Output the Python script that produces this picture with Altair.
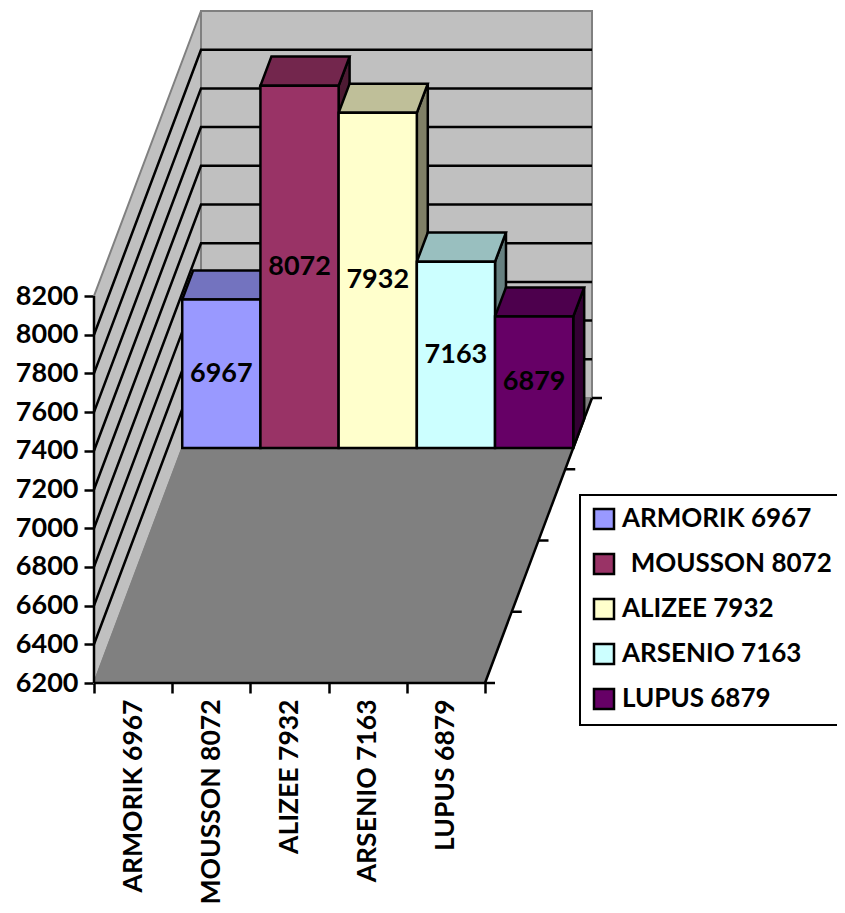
import altair as alt
import pandas as pd

categories = ["ARMORIK 6967", "MOUSSON 8072", "ALIZEE 7932", "ARSENIO 7163", "LUPUS 6879"]
values = [6967, 8072, 7932, 7163, 6879]
colors = ["#9999FF", "#993366", "#FFFFCC", "#CCFFFF", "#660066"]
tops = ["#7373BF", "#73264D", "#BFBF99", "#99BFBF", "#4D004D"]
sides = ["#4D4D80", "#4D1A33", "#808066", "#668080", "#330033"]
y_ticks = [6200, 6400, 6600, 6800, 7000, 7200, 7400, 7600, 7800, 8000, 8200]
grid_values = y_ticks[1:-1]

FONT = "Lato"
FS = 27
FS_AXIS = 26.5
FS_LEGEND = 26
BASE = 6200
TOP = 8200
PW, PH = 498, 671
UX = 391 / 5            # px per category
UY = 387 / 2000         # px per value unit
DX = 107 / UX           # depth shift, category units
DY = 285 / UY           # depth shift, value units
D0, D1 = 0.8246, 0.927  # depth span of the bars
BAR_DX, BAR_DY = DX * D0, DY * D0
DEP_X, DEP_Y = DX * (D1 - D0), DY * (D1 - D0)

x_scale = alt.Scale(domain=[0, PW / UX], nice=False, zero=False)
y_scale = alt.Scale(domain=[BASE, BASE + PH / UY], nice=False, zero=False)

axis_x = alt.Axis(
    values=[0, 1, 2, 3, 4, 5], grid=False, domain=False, tickColor="black", tickWidth=2.5, tickSize=10,
    labelExpr="['ARMORIK 6967','MOUSSON 8072','ALIZEE 7932','ARSENIO 7163','LUPUS 6879',''][datum.value]",
    labelAngle=-90, labelAlign="right", labelBaseline="middle", labelOffset=UX / 2, labelPadding=6,
    labelFont=FONT, labelFontSize=FS_AXIS, labelFontWeight="bold", labelColor="black", labelLimit=400,
)
axis_y = alt.Axis(
    values=y_ticks, format="d", grid=False, domain=False, tickColor="black", tickWidth=2.5, tickSize=10,
    labelPadding=6, labelFont=FONT, labelFontSize=FS, labelFontWeight="bold", labelColor="black", labelLimit=200,
)

X = lambda: alt.X("x:Q", scale=x_scale, title=None, axis=axis_x)
Y = lambda: alt.Y("y:Q", scale=y_scale, title=None, axis=axis_y)

# walls and floor
back = pd.DataFrame([{"x": DX, "x2": DX + 5, "y": BASE + DY, "y2": TOP + DY}])
left = pd.DataFrame([
    {"x": 0, "y": BASE, "y2": TOP},
    {"x": DX, "y": BASE + DY, "y2": TOP + DY},
])
floor = pd.DataFrame([
    {"y": BASE, "x": 0, "x2": 5},
    {"y": BASE + DY, "x": DX, "x2": DX + 5},
])

l_back = alt.Chart(back).mark_rect(fill="#C0C0C0", stroke="#808080", strokeWidth=2).encode(
    x=X(), x2="x2:Q", y=Y(), y2="y2:Q")
l_left = alt.Chart(left).mark_area(fill="#C0C0C0", stroke="#808080", strokeWidth=2).encode(
    x=X(), y=Y(), y2="y2:Q")
l_floor = alt.Chart(floor).mark_area(orient="horizontal", fill="#808080", stroke="#808080", strokeWidth=1.5).encode(
    y=Y(), x=X(), x2="x2:Q")

# grid lines across the left and back walls
grid = pd.DataFrame(
    [r for v in grid_values for r in (
        {"v": v, "x": 0, "y": v},
        {"v": v, "x": DX, "y": v + DY},
        {"v": v, "x": DX + 5, "y": v + DY},
    )]
)
l_grid = alt.Chart(grid).mark_line(color="black", strokeWidth=2.5).encode(
    x=X(), y=Y(), detail="v:N")

# axis lines
axes_df = pd.DataFrame(
    [{"k": "y", "x": 0, "y": BASE}, {"k": "y", "x": 0, "y": TOP},
     {"k": "x", "x": 0, "y": BASE}, {"k": "x", "x": 5, "y": BASE},
     {"k": "d", "x": 5, "y": BASE}, {"k": "d", "x": 5 + DX, "y": BASE + DY}]
)
l_axes = alt.Chart(axes_df).mark_line(color="black", strokeWidth=2.5).encode(
    x=X(), y=Y(), detail="k:N")

depth_ticks = pd.DataFrame(
    [{"x": 5 + DX * d, "x2": 5 + DX * d + 10 / UX, "y": BASE + DY * d} for d in (0, 0.25, 0.5, 0.75, 1)]
)
l_dt = alt.Chart(depth_ticks).mark_rule(color="black", strokeWidth=2.5).encode(
    x=X(), x2="x2:Q", y=Y())

# bars
side_rows, top_rows, front_rows, label_rows = [], [], [], []
for i, (c, v) in enumerate(zip(categories, values)):
    x0, x1 = i + BAR_DX, i + 1 + BAR_DX
    b, t = BASE + BAR_DY, v + BAR_DY
    side_rows += [
        {"c": c, "s": sides[i], "x": x1, "y": b, "y2": t},
        {"c": c, "s": sides[i], "x": x1 + DEP_X, "y": b + DEP_Y, "y2": t + DEP_Y},
    ]
    top_rows += [
        {"c": c, "s": tops[i], "y": t, "x": x0, "x2": x1},
        {"c": c, "s": tops[i], "y": t + DEP_Y, "x": x0 + DEP_X, "x2": x1 + DEP_X},
    ]
    front_rows.append({"c": c, "x": x0, "x2": x1, "y": b, "y2": t})
    label_rows.append({"t": str(v), "x": (x0 + x1) / 2, "y": (b + t) / 2})

l_side = alt.Chart(pd.DataFrame(side_rows)).mark_area(stroke="black", strokeWidth=2.5).encode(
    x=X(), y=Y(), y2="y2:Q", detail="c:N", fill=alt.Fill("s:N", scale=None))
l_top = alt.Chart(pd.DataFrame(top_rows)).mark_area(orient="horizontal", stroke="black", strokeWidth=2.5).encode(
    y=Y(), x=X(), x2="x2:Q", detail="c:N", fill=alt.Fill("s:N", scale=None))
l_front = alt.Chart(pd.DataFrame(front_rows)).mark_rect(stroke="black", strokeWidth=2.5).encode(
    x=X(), x2="x2:Q", y=Y(), y2="y2:Q",
    color=alt.Color(
        "c:N",
        scale=alt.Scale(domain=categories, range=colors),
        sort=categories,
        legend=alt.Legend(
            title=None, orient="none", legendX=486, legendY=483, direction="vertical",
            fillColor="white", strokeColor="black", padding=11,
            symbolType="square", symbolSize=400, symbolStrokeColor="black", symbolStrokeWidth=2.5,
            symbolOpacity=1, rowPadding=15, labelFont=FONT, labelFontSize=FS_LEGEND, labelFontWeight="bold",
            labelColor="black", labelLimit=400, labelOffset=5,
            labelExpr="indexof(datum.label, 'MOUSSON') >= 0 ? '\u200b\u2004MOUSSON 8072' : datum.label",
        ),
    ),
)
l_text = alt.Chart(pd.DataFrame(label_rows)).mark_text(
    font=FONT, fontSize=FS, fontWeight="bold", color="black", align="center", baseline="middle"
).encode(x=X(), y=Y(), text="t:N")

chart = alt.layer(
    l_back, l_left, l_floor, l_grid, l_dt, l_axes, l_side, l_top, l_front, l_text
).properties(
    width=PW, height=PH,
    autosize=alt.AutoSizeParams(type="none"),
    padding={"left": 86, "top": 4, "right": 245, "bottom": 222},
    background="white",
).configure_view(stroke=None).configure_legend(strokeWidth=2)

chart.save("out.html", embed_options={"renderer": "svg", "actions": False})
